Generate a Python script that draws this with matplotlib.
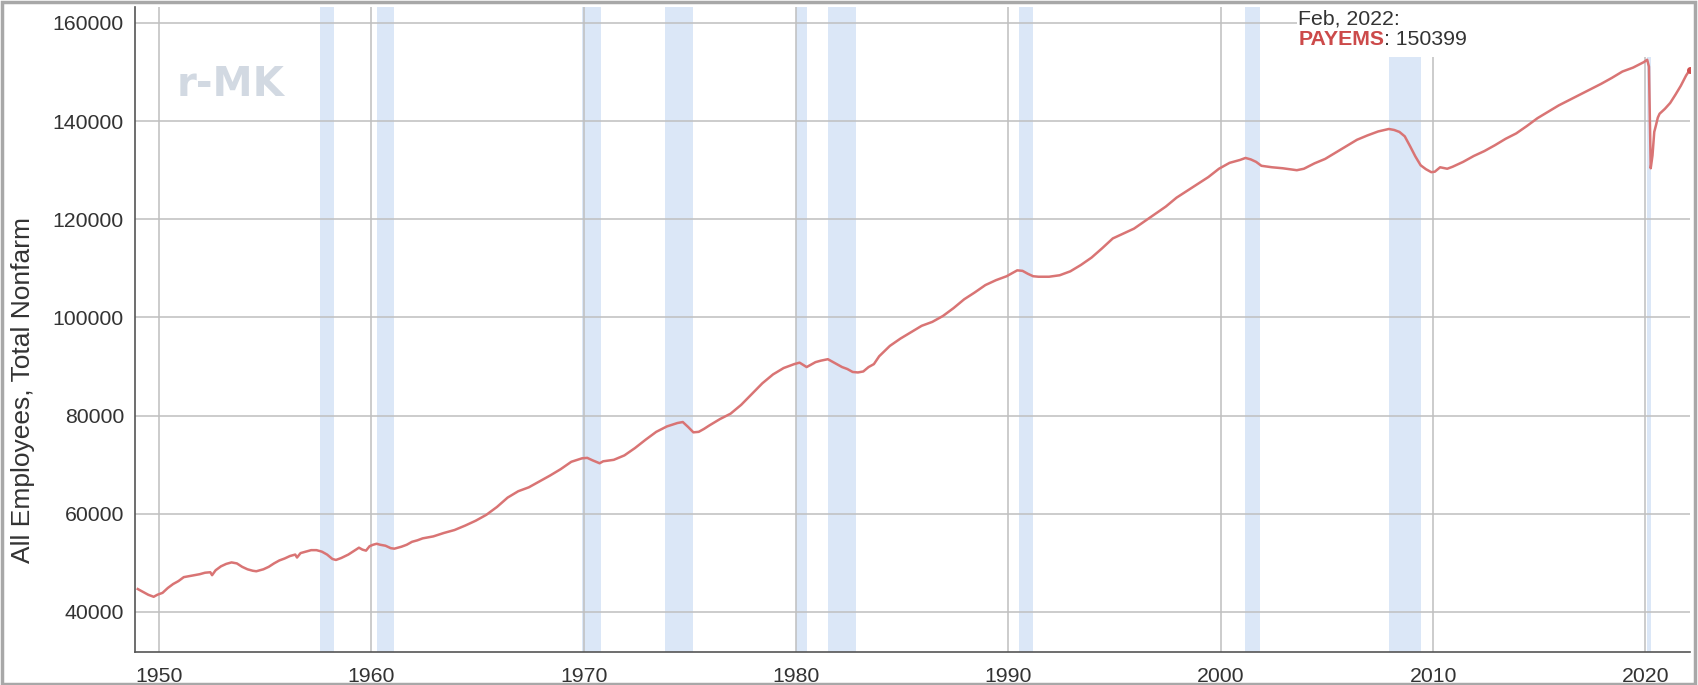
import matplotlib
matplotlib.use("Agg")
import matplotlib.pyplot as plt
from matplotlib.patches import Rectangle
import numpy as np

# ---- data (thousands of persons) ----
dates = [
    "1949-01","1949-04","1949-07","1949-10","1949-12","1950-03","1950-06","1950-09","1950-12",
    "1951-03","1951-06","1951-09","1951-12","1952-03","1952-06","1952-07","1952-09","1952-12",
    "1953-03","1953-06","1953-09","1953-12","1954-03","1954-06","1954-08","1954-12",
    "1955-03","1955-06","1955-09","1955-12","1956-03","1956-06","1956-07","1956-09","1956-12",
    "1957-03","1957-06","1957-09","1957-12","1958-03","1958-05","1958-08","1958-12",
    "1959-03","1959-06","1959-08","1959-10","1959-12","1960-02","1960-04","1960-06","1960-09",
    "1960-12","1961-02","1961-06","1961-09","1961-12","1962-03","1962-06","1962-12",
    "1963-06","1963-12","1964-06","1964-12","1965-06","1965-12","1966-06","1966-12",
    "1967-06","1967-12","1968-06","1968-12","1969-06","1969-12","1970-03","1970-06","1970-10",
    "1970-12","1971-06","1971-12","1972-06","1972-12","1973-06","1973-12","1974-06","1974-09",
    "1974-12","1975-03","1975-06","1975-09","1975-12","1976-06","1976-12","1977-06","1977-12",
    "1978-06","1978-12","1979-06","1979-12","1980-03","1980-07","1980-12","1981-03","1981-07",
    "1981-10","1981-12","1982-03","1982-06","1982-09","1982-12","1983-03","1983-06","1983-09",
    "1983-12","1984-06","1984-12","1985-06","1985-12","1986-06","1986-12","1987-06","1987-12",
    "1988-06","1988-12","1989-06","1989-12","1990-06","1990-09","1990-12","1991-03","1991-06",
    "1991-12","1992-06","1992-12","1993-06","1993-12","1994-06","1994-12","1995-06","1995-12",
    "1996-06","1996-12","1997-06","1997-12","1998-06","1998-12","1999-06","1999-12","2000-06",
    "2000-12","2001-03","2001-06","2001-09","2001-12","2002-06","2002-12","2003-06","2003-08",
    "2003-12","2004-06","2004-12","2005-06","2005-12","2006-06","2006-12","2007-06","2007-12",
    "2008-03","2008-06","2008-09","2008-12","2009-03","2009-06","2009-09","2009-12","2010-02",
    "2010-05","2010-09","2010-12","2011-06","2011-12","2012-06","2012-12","2013-06","2013-12",
    "2014-06","2014-12","2015-06","2015-12","2016-06","2016-12","2017-06","2017-12","2018-06",
    "2018-12","2019-06","2019-12","2020-02","2020-03","2020-04","2020-05","2020-06","2020-07",
    "2020-08","2020-09","2020-12","2021-03","2021-06","2021-09","2021-12","2022-02",
]
payems = [
    44675,44100,43500,43100,43500,43900,44900,45700,46300,
    47100,47300,47500,47700,48000,48100,47500,48500,49300,
    49800,50100,49900,49200,48700,48400,48300,48700,
    49200,49900,50500,50900,51400,51700,51100,52000,52300,
    52600,52600,52300,51700,50800,50600,51000,51700,
    52400,53100,52700,52500,53400,53700,53900,53700,53500,
    53000,52900,53300,53700,54300,54600,55000,55400,
    56100,56700,57600,58600,59800,61400,63300,64600,
    65400,66600,67800,69100,70600,71300,71400,70900,70300,
    70700,71000,71900,73400,75100,76700,77800,78500,78700,
    77700,76600,76700,77300,78000,79300,80400,82200,84400,
    86600,88400,89700,90500,90800,89900,90900,91200,91500,
    90900,90500,89900,89500,88900,88800,89000,89900,90500,
    92100,94200,95700,97000,98300,99100,100300,101900,103700,
    105100,106600,107600,108400,109600,109500,108900,108400,108300,
    108300,108600,109400,110700,112200,114100,116100,117100,118100,
    119600,121100,122600,124400,125800,127200,128600,130300,131500,
    132100,132500,132200,131700,130900,130600,130400,130100,130000,
    130300,131400,132300,133600,134900,136200,137100,137900,138400,
    138200,137800,136900,134900,132800,131000,130200,129600,129700,
    130600,130300,130700,131700,132900,133900,135100,136400,137500,
    139000,140600,141900,143200,144300,145400,146500,147600,148800,
    150100,150900,152000,152500,151100,130400,133000,137800,139200,
    140700,141500,142500,143700,145400,147200,149300,150399,
]
# NBER recessions (start, end) as shown shaded
recessions = [("1957-08","1958-04"),("1960-04","1961-02"),("1969-12","1970-11"),
              ("1973-11","1975-03"),("1980-01","1980-07"),("1981-07","1982-11"),
              ("1990-07","1991-03"),("2001-03","2001-11"),("2007-12","2009-06"),
              ("2020-02","2020-04")]
x_ticks = [1950,1960,1970,1980,1990,2000,2010,2020]
y_ticks = [40000,60000,80000,100000,120000,140000,160000]

def dec(s):
    y, m = s.split("-")
    return int(y) + (int(m) - 1) / 12.0

xs = np.array([dec(d) for d in dates])
ys = np.array(payems)

plt.rcParams['font.family'] = ['Liberation Sans', 'DejaVu Sans']
fig = plt.figure(figsize=(16.98, 6.85), dpi=100)
ax = fig.add_axes([135/1698, 1-652/685, (1690-135)/1698, (652-7)/685])

for s, e in recessions:
    ax.axvspan(dec(s), dec(e), color='#dbe7f7', lw=0, zorder=1)

ax.set_xlim(1948.87, 2022.1)
ax.set_ylim(31850, 163250)
ax.set_xticks(x_ticks)
ax.set_xticklabels([str(t) for t in x_ticks])
ax.set_yticks(y_ticks)
ax.set_yticklabels([str(t) for t in y_ticks])
ax.grid(True, color='#bfbfbf', lw=1.1, zorder=2)
ax.set_axisbelow(False)
for side in ['top', 'right']:
    ax.spines[side].set_visible(False)
for side in ['left', 'bottom']:
    ax.spines[side].set_color('#555555')
    ax.spines[side].set_linewidth(1.2)
    ax.spines[side].set_zorder(3)
ax.tick_params(length=0, labelsize=15.3, colors='#333333', pad=8)
ax.tick_params(axis='x', pad=11)

# annotation box (white background covering the top right)
ax.add_patch(Rectangle((2003.6, 153100), 30, 20000, facecolor='white',
                       edgecolor='none', zorder=4))

ax.plot(xs, ys, color='#d97474', lw=1.8, zorder=5, solid_joinstyle='round')
ax.plot(xs[-1:], ys[-1:], 'o', color='#d05050', ms=4, zorder=6)

ax.text(2003.65, 163250 - 600, "Feb, 2022:", fontsize=15.3, color='#333333',
        va='top', ha='left', zorder=7)
t1 = ax.text(2003.65, 155500, "PAYEMS", fontsize=15.3, color='#cc4a4a',
             fontweight='bold', va='baseline', ha='left', zorder=7)
fig.canvas.draw()
bb = t1.get_window_extent()
ax.text(bb.x1, bb.y0, ": 150399", fontsize=15.3, color='#333333', va='bottom',
        ha='left', zorder=7, transform=None)

# watermark
ax.text(0.0617, 0.879, "r-MK", transform=ax.transAxes, fontsize=29,
        fontweight='bold', color='#d2d9e2', ha='center', va='center', zorder=3,
        family='DejaVu Sans')

fig.text(23/1698, 1-390/685, "All Employees, Total Nonfarm", rotation=90,
         fontsize=19, color='#333333', ha='center', va='center')

fig.patches.append(Rectangle((0.001, 0.002), 0.997, 0.995, transform=fig.transFigure,
                             fill=False, edgecolor='#a8a8a8', lw=2.5))

fig.savefig("out.png", dpi=100)
